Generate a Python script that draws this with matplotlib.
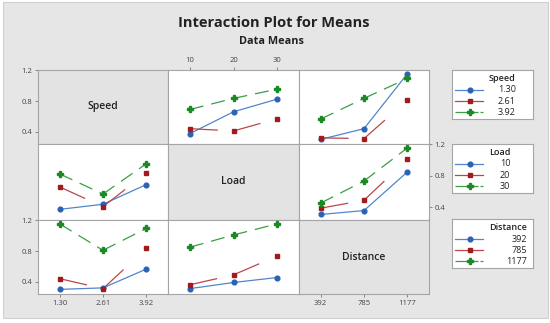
import numpy as np
import matplotlib
matplotlib.use("Agg")
import matplotlib.pyplot as plt
from matplotlib.patches import Rectangle
from matplotlib.lines import Line2D

plt.rcParams['font.family'] = ['Open Sans', 'DejaVu Sans']
plt.rcParams['lines.scale_dashes'] = False

# ---------------- data ----------------
factors = ["Speed", "Load", "Distance"]
speed_levels = ["1.30", "2.61", "3.92"]
load_levels = ["10", "20", "30"]
distance_levels = ["392", "785", "1177"]
levels = [speed_levels, load_levels, distance_levels]

# mean response, rows = first factor level, cols = second factor level
speed_load = np.array([[0.375, 0.66, 0.825],
                       [0.44, 0.41, 0.57],
                       [0.69, 0.835, 0.955]])
speed_distance = np.array([[0.30, 0.44, 1.155],
                           [0.32, 0.31, 0.81],
                           [0.565, 0.835, 1.095]])
load_distance = np.array([[0.31, 0.36, 0.85],
                          [0.39, 0.49, 1.01],
                          [0.455, 0.735, 1.155]])

y_ticks = [0.4, 0.8, 1.2]

# ---------------- styles ----------------
W, H = 550, 323
PT = 72 / 100.0  # points per pixel at dpi 100
colors = ["#2a62b4", "#a31a1e", "#1b8a25"]
line_colors = ["#4f86cc", "#b8474a", "#3a9e44"]
markers = ["o", "s", "P"]
msizes = [3.4, 3.3, 4.0]
dash_styles = [None, (0, (28 * PT, 300)), (0, (14 * PT, 8 * PT))]
bg = "#e6e6e6"
border = "#a5a5a5"

fig = plt.figure(figsize=(W / 100, H / 100), dpi=100)
fig.patch.set_facecolor("white")
fig.add_artist(Rectangle((3 / W, 1 - 318 / H), 545 / W, 316 / H, transform=fig.transFigure,
                         facecolor=bg, edgecolor="#d0d0d0", lw=0.8, zorder=-10))

fig.text(274 / W, 1 - 23 / H, "Interaction Plot for Means", ha="center", va="center",
         fontsize=10.5, fontweight="bold", color="#222222")
fig.text(271 / W, 1 - 41 / H, "Data Means", ha="center", va="center",
         fontsize=7.8, fontweight="bold", color="#222222")

col_edges = [38, 168, 299, 429]
row_edges = [70, 144, 220, 294]


def pair_matrix(i, j):
    # rows = levels of factor i (lines), cols = levels of factor j (x axis)
    if (i, j) == (0, 1):
        return speed_load
    if (i, j) == (1, 0):
        return speed_load.T
    if (i, j) == (0, 2):
        return speed_distance
    if (i, j) == (2, 0):
        return speed_distance.T
    if (i, j) == (1, 2):
        return load_distance
    if (i, j) == (2, 1):
        return load_distance.T


tick_kw = dict(labelsize=5.5, labelcolor="#444444", length=2.5, width=0.6, color="#777777", pad=1.5)

for i in range(3):
    for j in range(3):
        x0, x1 = col_edges[j], col_edges[j + 1]
        y0, y1 = row_edges[i], row_edges[i + 1]
        ax = fig.add_axes([x0 / W, 1 - y1 / H, (x1 - x0) / W, (y1 - y0) / H])
        for s in ax.spines.values():
            s.set_color(border)
            s.set_linewidth(0.8)
        ax.set_xlim(0.5, 3.5)
        ax.set_ylim(0.24, 1.205)
        ax.set_xticks([])
        ax.set_yticks([])
        if i == j:
            ax.set_facecolor("#e3e3e3")
            ax.text(0.5, 0.5, factors[i], transform=ax.transAxes, ha="center", va="center",
                    fontsize=7.5, fontweight="semibold", color="#222222")
        else:
            ax.set_facecolor("white")
            m = pair_matrix(i, j)
            xs = np.arange(1, 4)
            for k in range(3):
                ys = m[k]
                for seg in range(2):
                    if dash_styles[k] is None:
                        ax.plot(xs[seg:seg + 2], ys[seg:seg + 2], color=line_colors[k], lw=0.9,
                                solid_capstyle="butt", zorder=2)
                    else:
                        ax.plot(xs[seg:seg + 2], ys[seg:seg + 2], color=line_colors[k], lw=0.9,
                                linestyle=dash_styles[k], dash_capstyle="butt", zorder=2)
                ax.plot(xs, ys, linestyle="none", marker=markers[k], ms=msizes[k],
                        color=colors[k], mec=colors[k], zorder=3)
        if j == 0 and i in (0, 2):
            ax.set_yticks(y_ticks)
            ax.set_yticklabels(["0.4", "0.8", "1.2"])
            ax.tick_params(axis="y", left=True, labelleft=True, **tick_kw)
        if j == 2 and i == 1:
            ax.set_yticks(y_ticks)
            ax.set_yticklabels(["0.4", "0.8", "1.2"])
            ax.tick_params(axis="y", left=False, labelleft=False, right=True, labelright=True, **tick_kw)
        if i == 2 and j in (0, 2):
            ax.set_xticks([1, 2, 3])
            ax.set_xticklabels(levels[j])
            ax.tick_params(axis="x", bottom=True, labelbottom=True, **tick_kw)
        if i == 0 and j == 1:
            ax.set_xticks([1, 2, 3])
            ax.set_xticklabels(levels[j])
            ax.tick_params(axis="x", bottom=False, labelbottom=False, top=True, labeltop=True, **tick_kw)

# ---------------- legends ----------------
leg_tops = [70, 144, 219]
leg_h = 49
leg_x0, leg_w = 452, 81
green_leg_dash = (0, (23 * PT, 2 * PT, 3 * PT, 30))
fig.canvas.draw()
renderer = fig.canvas.get_renderer()
for f in range(3):
    top = leg_tops[f]
    lax = fig.add_axes([leg_x0 / W, 1 - (top + leg_h) / H, leg_w / W, leg_h / H])
    lax.set_xlim(0, leg_w)
    lax.set_ylim(leg_h, 0)
    lax.set_xticks([])
    lax.set_yticks([])
    lax.set_facecolor("white")
    for s in lax.spines.values():
        s.set_color(border)
        s.set_linewidth(0.8)
    t = lax.text(37, 8.5, factors[f], ha="left", va="center", fontsize=6.5,
                 fontweight="semibold", color="#222222")
    fig.canvas.draw()
    bb = t.get_window_extent(renderer=renderer)
    right_data = lax.transData.inverted().transform((bb.x1, bb.y0))[0]
    for k in range(3):
        yy = 20 + k * 11.2
        ls = "-" if k < 2 else green_leg_dash
        lax.add_line(Line2D([3, 31], [yy, yy], color=line_colors[k], lw=0.9, linestyle=ls))
        lax.plot([18], [yy], marker=markers[k], ms=msizes[k], color=colors[k], linestyle="none")
        lax.text(right_data, yy, levels[f][k], ha="right", va="center", fontsize=6.5,
                 color="#222222")

fig.savefig("out.png", dpi=100, facecolor=fig.get_facecolor())
